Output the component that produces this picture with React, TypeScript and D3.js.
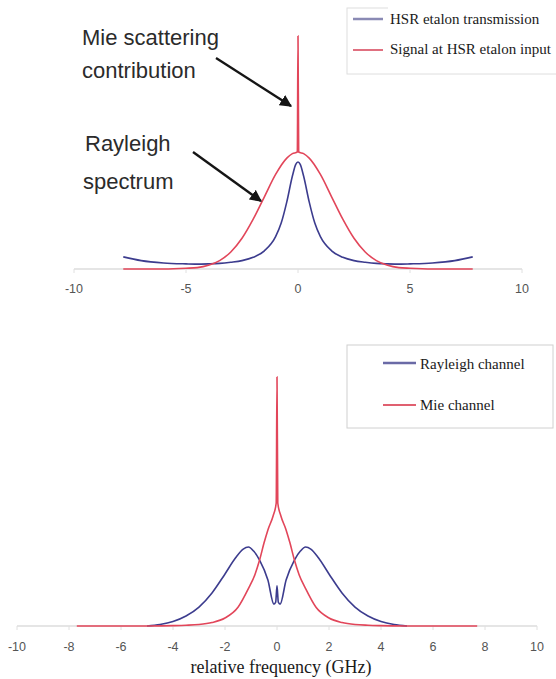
import React from "react";
import * as d3 from "d3";

// ---------- data ----------
// Top panel: x in GHz, intensity in arbitrary units (Mie spike = 100)
const topEtalonX = [-7.8, -7, -6, -5, -4.6, -4, -3.5, -3, -2.5, -2, -1.5, -1, -0.75, -0.5, -0.25, -0.1, 0, 0.1, 0.25, 0.5, 0.75, 1, 1.5, 2, 2.5, 3, 3.5, 4, 4.6, 5, 6, 7, 7.8];
const topEtalonY = [5.2, 3.6, 2.6, 2.2, 2.1, 2.2, 2.4, 2.9, 3.6, 5.0, 7.8, 13.9, 19.7, 28.8, 39.9, 44.9, 45.9, 44.9, 39.9, 28.8, 19.7, 13.9, 7.8, 5.0, 3.6, 2.9, 2.4, 2.2, 2.1, 2.2, 2.6, 3.6, 5.2];

const topSignalX = [-7.8, -6, -5, -4.5, -4, -3.5, -3, -2.5, -2, -1.5, -1, -0.5, -0.25, -0.03, 0, 0.03, 0.25, 0.5, 1, 1.5, 2, 2.5, 3, 3.5, 4, 4.5, 5, 6, 7.8];
const topSignalY = [0, 0, 0.3, 0.6, 1.6, 3.6, 7.3, 13.2, 21.4, 31.0, 40.6, 47.6, 49.5, 50.2, 100, 50.2, 49.5, 47.6, 40.6, 31.0, 21.4, 13.2, 7.3, 3.6, 1.6, 0.6, 0.3, 0, 0];

// Bottom panel
const rayleighX = [-5, -4.5, -4, -3.5, -3, -2.5, -2, -1.6, -1.3, -1.1, -0.9, -0.67, -0.35, -0.12, -0.05, 0, 0.05, 0.12, 0.35, 0.67, 0.9, 1.1, 1.3, 1.6, 2, 2.5, 3, 3.5, 4, 4.5, 5];
const rayleighY = [0, 0.6, 1.8, 4.0, 7.6, 13.3, 20.9, 27.3, 30.9, 31.7, 30.1, 26.5, 18.5, 8.8, 9.6, 16.1, 9.6, 8.8, 18.5, 26.5, 30.1, 31.7, 30.9, 27.3, 20.9, 13.3, 7.6, 4.0, 1.8, 0.6, 0];

const mieX = [-7.7, -6, -5, -4, -3.5, -3, -2.5, -2, -1.5, -1.1, -0.85, -0.67, -0.5, -0.35, -0.15, -0.03, 0, 0.03, 0.15, 0.35, 0.5, 0.67, 0.85, 1.1, 1.5, 2, 2.5, 3, 3.5, 4, 5, 6, 7.7];
const mieY = [0, 0, 0.03, 0.15, 0.3, 0.6, 1.4, 3.2, 7.5, 15.0, 20.6, 26.5, 33.3, 38.6, 44.2, 49.4, 100, 49.4, 44.2, 38.6, 33.3, 26.5, 20.6, 15.0, 7.5, 3.2, 1.4, 0.6, 0.3, 0.15, 0.03, 0, 0];

const topTicks = [-10, -5, 0, 5, 10];
const bottomTicks = [-10, -8, -6, -4, -2, 0, 2, 4, 6, 8, 10];

const topLegend = ["HSR etalon transmission", "Signal at HSR etalon input"];
const bottomLegend = ["Rayleigh channel", "Mie channel"];
const xLabel = "relative frequency (GHz)";

const BLUE = "#3c3c8e";
const RED = "#e2465a";

const zip = (xs: number[], ys: number[]) => xs.map((x, i) => [x, ys[i]] as [number, number]);

export default function App() {
  // scales
  const xTop = d3.scaleLinear().domain([-10, 10]).range([74, 522]);
  const yTop = d3.scaleLinear().domain([0, 100]).range([269, 36]);
  const xBot = d3.scaleLinear().domain([-10, 10]).range([17, 537]);
  const yBot = d3.scaleLinear().domain([0, 100]).range([626, 377]);

  const lineTop = d3.line<[number, number]>().x(d => xTop(d[0])).y(d => yTop(d[1])).curve(d3.curveMonotoneX);
  const lineBot = d3.line<[number, number]>().x(d => xBot(d[0])).y(d => yBot(d[1])).curve(d3.curveMonotoneX);

  const sans = "'Liberation Sans', Arial, sans-serif";
  const serif = "'Liberation Serif', 'Times New Roman', serif";

  return (
    <svg width={556} height={679} style={{ position: "absolute", left: 0, top: 0, background: "#fff" }}>
      <defs>
        <marker id="ah" viewBox="0 0 10 10" refX="9" refY="5" markerWidth="5" markerHeight="5" orient="auto">
          <path d="M0,0 L10,5 L0,10 z" fill="#151515" />
        </marker>
      </defs>
      <rect x={0} y={0} width={556} height={679} fill="#ffffff" />

      {/* ---------- TOP PANEL ---------- */}
      <line x1={xTop(-10)} x2={xTop(10)} y1={yTop(0)} y2={yTop(0)} stroke="#dcdcdc" strokeWidth={1.5} />
      {topTicks.map(t => (
        <g key={"tt" + t}>
          <line x1={xTop(t)} x2={xTop(t)} y1={yTop(0)} y2={yTop(0) + 4} stroke="#e0e0e0" />
          <text x={xTop(t)} y={yTop(0) + 24} textAnchor="middle" fontFamily={sans} fontSize={12.5} fill="#555">{t}</text>
        </g>
      ))}
      <path d={lineTop(zip(topEtalonX, topEtalonY)) || ""} fill="none" stroke={BLUE} strokeWidth={1.6} />
      <path d={lineTop(zip(topSignalX, topSignalY)) || ""} fill="none" stroke={RED} strokeWidth={1.6} />

      {/* annotations */}
      <g fontFamily={sans} fontSize={22} fill="#2b2b2b">
        <text x={82} y={45}>Mie scattering</text>
        <text x={82} y={78}>contribution</text>
        <text x={85} y={151}>Rayleigh</text>
        <text x={83} y={189}>spectrum</text>
      </g>
      <line x1={216} y1={58} x2={291} y2={106} stroke="#151515" strokeWidth={2.4} markerEnd="url(#ah)" />
      <line x1={193} y1={152} x2={261} y2={201} stroke="#151515" strokeWidth={2.4} markerEnd="url(#ah)" />

      {/* top legend */}
      <rect x={347} y={8} width={215} height={66} fill="#fff" stroke="#dedede" />
      <rect x={388} y={0} width={168} height={73} fill="#fff" />
      <line x1={353} x2={383} y1={19} y2={19} stroke="#8a8ab4" strokeWidth={2.5} />
      <line x1={353} x2={383} y1={50} y2={50} stroke="#e07080" strokeWidth={2} />
      <g fontFamily={serif} fontSize={15} fill="#1a1a1a">
        <text x={390} y={24}>{topLegend[0]}</text>
        <text x={390} y={54}>{topLegend[1]}</text>
      </g>

      {/* ---------- BOTTOM PANEL ---------- */}
      <line x1={xBot(-10)} x2={xBot(10)} y1={yBot(0)} y2={yBot(0)} stroke="#dcdcdc" strokeWidth={1.5} />
      {bottomTicks.map(t => (
        <g key={"bt" + t}>
          <line x1={xBot(t)} x2={xBot(t)} y1={yBot(0)} y2={yBot(0) + 4} stroke="#e0e0e0" />
          <text x={xBot(t)} y={yBot(0) + 25} textAnchor="middle" fontFamily={sans} fontSize={12.5} fill="#555">{t}</text>
        </g>
      ))}
      <path d={lineBot(zip(rayleighX, rayleighY)) || ""} fill="none" stroke={BLUE} strokeWidth={1.6} />
      <path d={lineBot(zip(mieX, mieY)) || ""} fill="none" stroke={RED} strokeWidth={1.6} />

      <text x={xBot(0) + 4} y={673} textAnchor="middle" fontFamily={serif} fontSize={18} fill="#1a1a1a">{xLabel}</text>

      {/* bottom legend */}
      <rect x={347} y={345} width={206} height={83} fill="#fff" stroke="#d0d0d0" />
      <line x1={383} x2={416} y1={363} y2={363} stroke="#6a6aa6" strokeWidth={2.5} />
      <line x1={383} x2={416} y1={405} y2={405} stroke="#e06070" strokeWidth={2.2} />
      <g fontFamily={serif} fontSize={15} fill="#1a1a1a">
        <text x={420} y={369}>{bottomLegend[0]}</text>
        <text x={420} y={410}>{bottomLegend[1]}</text>
      </g>
    </svg>
  );
}
